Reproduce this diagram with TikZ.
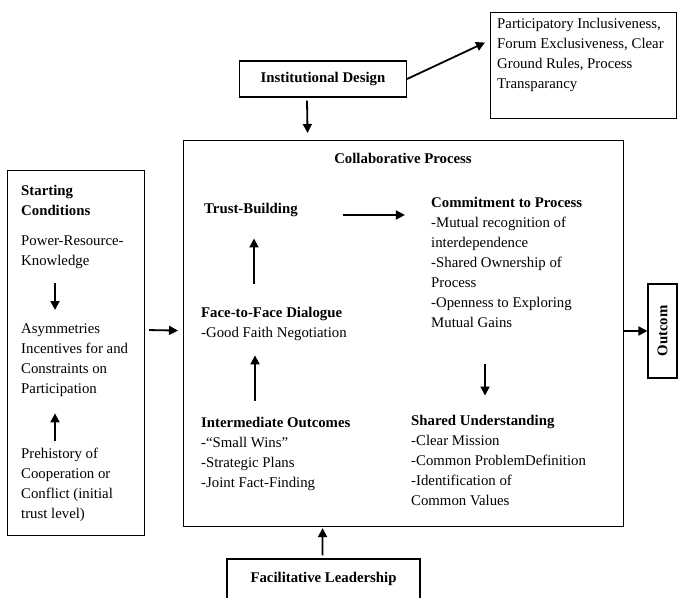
\documentclass[tikz,border=0pt]{standalone}
\usepackage{fontspec}
\setmainfont{Liberation Serif}
\usetikzlibrary{arrows.meta}
\begin{document}
\begin{tikzpicture}[x=1pt,y=-1pt,
  box/.style={draw=black, line width=1.1pt, inner sep=0pt},
  txt/.style={inner sep=0pt, anchor=base west, align=left, font=\fontsize{14.8}{20}\selectfont},
  ctxt/.style={inner sep=0pt, anchor=base, font=\fontsize{14.8}{20}\selectfont\bfseries},
  arr/.style={-{Triangle[length=9pt,width=9pt]}, line width=1.8pt}]
\useasboundingbox (0,0) rectangle (679,597);
\clip (0,0) rectangle (679,597);
% Starting conditions
\node[box, anchor=north west, minimum width=137, minimum height=365] (sc) at (7,170) {};
\node[txt] (sct) at (21,215) {\bfseries Starting\\\bfseries Conditions};
\node[txt] (pk) at (21,265) {Power-Resource-\\Knowledge};
\node[txt] (asy) at (21,393) {Asymmetries\\Incentives for and\\Constraints on\\Participation};
\node[txt] (pre) at (21,518) {Prehistory of\\Cooperation or\\Conflict (initial\\trust level)};
\draw[arr] ([shift={(34,15)}]pk.south west) -- ([shift={(34,-13)}]asy.north west);
\draw[arr] ([shift={(34,-6)}]pre.north west) -- ([shift={(34,17)}]asy.south west);
% Collaborative process
\node[box, anchor=north west, minimum width=440, minimum height=386] (cp) at (183,140) {};
\node[ctxt] (cpt) at (403,163) {Collaborative Process};
\node[txt] (tb) at (204,213) {\bfseries Trust-Building};
\node[txt] (cm) at (431,327) {\bfseries Commitment to Process\\-Mutual recognition of\\interdependence\\-Shared Ownership of\\Process\\-Openness to Exploring\\Mutual Gains};
\node[txt] (ff) at (201,337) {\bfseries Face-to-Face Dialogue\\-Good Faith Negotiation};
\node[txt] (io) at (201,487) {\bfseries Intermediate Outcomes\\-“Small Wins”\\-Strategic Plans\\-Joint Fact-Finding};
\node[txt] (su) at (411,505) {\bfseries Shared Understanding\\-Clear Mission\\-Common ProblemDefinition\\-Identification of\\Common Values};
\draw[arr] ([shift={(45,2)}]tb.base east) -- ++(62,0);
\draw[arr] ([shift={(53,-23)}]ff.north west) -- ([shift={(50,22)}]tb.south west);
\draw[arr] ([shift={(54,-16)}]io.north west) -- ([shift={(54,15)}]ff.south west);
\draw[arr] ([shift={(54,37)}]cm.south west) -- ([shift={(74,-19)}]su.north west);
% Institutional design
\node[box, minimum width=167, minimum height=36, font=\fontsize{14.8}{20}\selectfont\bfseries] (id) at (323,79) {Institutional Design};
\node[box, anchor=north west, minimum width=186, minimum height=106] (pt) at (490,12) {};
\node[txt] (ptt) at (497,88) {Participatory Inclusiveness,\\Forum Exclusiveness, Clear\\Ground Rules, Process\\Transparancy};
\draw[arr] (id.east) -- ([shift={(-5,-23)}]pt.west);
\draw[arr] ([shift={(-16,3)}]id.south) -- ([shift={(-96,-7)}]cp.north);
% Facilitative leadership
\node[box, minimum width=193, minimum height=40, font=\fontsize{14.8}{20}\selectfont\bfseries] (fl) at (323.5,579) {Facilitative Leadership};
\draw[arr] ([shift={(-1,-3)}]fl.north) -- ([shift={(-81,1)}]cp.south);
% Outcome
\node[box, minimum width=29, minimum height=94] (oc) at (662.5,331) {};
\node[ctxt, anchor=center, rotate=90] (oct) at (oc.center) {Outcom};
\draw[arr] (cp.east |- oc.west) -- (oc.west);
\draw[arr] ([shift={(4,-23)}]sc.east) -- ([shift={(-5,-3)}]cp.west);
\end{tikzpicture}
\end{document}
